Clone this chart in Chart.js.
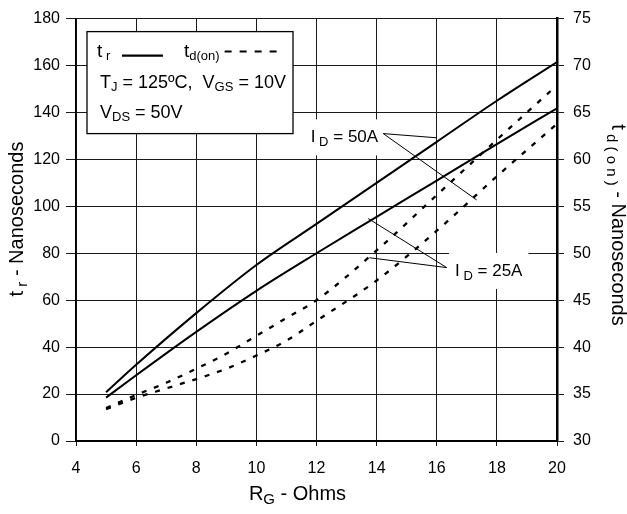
<!DOCTYPE html>
<html>
<head>
<meta charset="utf-8">
<script src="https://cdn.jsdelivr.net/npm/chart.js@4"></script>
<style>
  html, body { margin: 0; padding: 0; background: #fff; }
  #wrap { width: 627px; height: 514px; }
</style>
</head>
<body>
<div id="wrap"><canvas id="grafico" width="627" height="514"></canvas></div>
<script>
// valores
const rgSolid = [5, 6, 8, 10, 12, 14, 16, 18, 20];
const tr50 = [20.8, 32.5, 54.5, 75, 92.5, 110, 127.5, 145, 161.5];
const tr25 = [18.5, 28, 46.5, 64, 80, 95.5, 111, 126.5, 141.8];

const rgDash = [5, 6, 7, 8, 9, 10, 11, 12, 14, 16, 18, 20];
const td50 = [33.5, 34.9, 36.2, 37.7, 39.3, 41.2, 43.1, 45.0, 50.3, 56.2, 62.1, 67.9];
const td25 = [33.4, 34.6, 35.6, 36.6, 37.7, 39.1, 40.7, 42.8, 47.1, 52.4, 58.2, 63.8];

const xTicks = [4, 6, 8, 10, 12, 14, 16, 18, 20];
const yLeftTicks = [0, 20, 40, 60, 80, 100, 120, 140, 160, 180];
const yRightTicks = [30, 35, 40, 45, 50, 55, 60, 65, 70, 75];

const FONTE = "'Liberation Sans', Arial, sans-serif";
const pts = (xs, ys) => xs.map((x, i) => ({ x, y: ys[i] }));

// texto com subscrito: partes [texto, ehSub]
function medir(ctx, partes, tam, tamSub) {
    let w = 0;
    partes.forEach(p => { ctx.font = `${p[1] ? tamSub : tam}px ${FONTE}`; w += ctx.measureText(p[0]).width; });
    return w;
}
function escrever(ctx, partes, x, y, tam, tamSub, desce) {
    ctx.textAlign = 'left'; ctx.textBaseline = 'alphabetic'; ctx.fillStyle = '#000';
    partes.forEach(p => {
        ctx.font = `${p[1] ? tamSub : tam}px ${FONTE}`;
        ctx.fillText(p[0], x, p[1] ? y + desce : y);
        x += ctx.measureText(p[0]).width;
    });
    return x;
}

// anotacoes I_D (coordenadas em dados)
const notas = [
    { partes: [['I', 0], [' D', 1], [' = 50A', 0]], txt: [14.05, 129.8], alinha: 'right', ancora: [14.22, 131], fins: [[16.0, 129.2], [17.33, 102.7]] },
    { partes: [['I', 0], [' D', 1], [' = 25A', 0]], txt: [16.61, 72.9], alinha: 'left', ancora: [16.33, 73.9], fins: [[13.72, 94.8], [13.76, 78.1]] }
];

const extras = {
    id: 'extras',
    beforeDatasetsDraw(chart) {
        const ctx = chart.ctx, sx = chart.scales.x, sy = chart.scales.y;
        ctx.save();
        // caixa da legenda
        const a = chart.chartArea;
        const bx = a.left + 11, by = a.top + 13, bw = 206, bh = 102;
        ctx.fillStyle = '#fff'; ctx.fillRect(bx, by, bw, bh);
        ctx.strokeStyle = '#000'; ctx.lineWidth = 1.3; ctx.strokeRect(bx, by, bw, bh);
        escrever(ctx, [['t', 0], [' r', 1]], bx + 10, by + 25, 19, 13, 3);
        ctx.lineWidth = 2.2; ctx.beginPath(); ctx.moveTo(bx + 35, by + 24); ctx.lineTo(bx + 76, by + 24); ctx.stroke();
        let x = escrever(ctx, [['t', 0], ['d(on)', 1]], bx + 97, by + 25, 19, 13, 3);
        ctx.setLineDash([7, 8]); ctx.lineWidth = 2; ctx.beginPath(); ctx.moveTo(x + 5, by + 20); ctx.lineTo(bx + 196, by + 20); ctx.stroke();
        ctx.setLineDash([]);
        escrever(ctx, [['T', 0], ['J', 1], [' = 125ºC,  V', 0], ['GS', 1], [' = 10V', 0]], bx + 13, by + 56, 18, 13, 3);
        escrever(ctx, [['V', 0], ['DS', 1], [' = 50V', 0]], bx + 13, by + 86, 18, 13, 3);
        // rotulos I_D com fundo branco
        notas.forEach(n => {
            const w = medir(ctx, n.partes, 17, 13);
            const px = sx.getPixelForValue(n.txt[0]), py = sy.getPixelForValue(n.txt[1]);
            const x0 = n.alinha === 'right' ? px - w : px;
            ctx.fillStyle = '#fff'; ctx.fillRect(x0 - 6, py - 17, w + 12, 36);
            escrever(ctx, n.partes, x0, py + 6, 17, 13, 4);
        });
        ctx.restore();
    },
    afterDatasetsDraw(chart) {
        const ctx = chart.ctx, sx = chart.scales.x, sy = chart.scales.y;
        ctx.save();
        ctx.strokeStyle = '#000'; ctx.lineWidth = 1;
        notas.forEach(n => {
            const ax = sx.getPixelForValue(n.ancora[0]), ay = sy.getPixelForValue(n.ancora[1]);
            n.fins.forEach(f => {
                ctx.beginPath(); ctx.moveTo(ax, ay);
                ctx.lineTo(sx.getPixelForValue(f[0]), sy.getPixelForValue(f[1])); ctx.stroke();
            });
        });
        ctx.restore();
    },
    afterDraw(chart) {
        const ctx = chart.ctx;
        ctx.save();
        // titulo x
        let partes = [['R', 0], ['G', 1], [' - Ohms', 0]];
        let w = medir(ctx, partes, 20, 15);
        escrever(ctx, partes, 297.5 - w / 2, 500, 20, 15, 4);
        // titulo esquerdo
        partes = [['t', 0], [' r', 1], [' - Nanoseconds', 0]];
        w = medir(ctx, partes, 20, 15);
        ctx.translate(23, 219); ctx.rotate(-Math.PI / 2);
        escrever(ctx, partes, -w / 2, 0, 20, 15, 4);
        ctx.setTransform(1, 0, 0, 1, 0, 0);
        // titulo direito
        partes = [['t', 0], [' d ( o n )', 1], [' - Nanoseconds', 0]];
        w = medir(ctx, partes, 20, 15);
        ctx.translate(612, 225); ctx.rotate(Math.PI / 2);
        escrever(ctx, partes, -w / 2, 0, 20, 15, 5);
        ctx.restore();
    }
};

const corGrade = '#1a1a1a';
new Chart(document.getElementById('grafico'), {
    type: 'line',
    data: {
        datasets: [
            { data: pts(rgSolid, tr50), yAxisID: 'y', borderColor: '#000', borderWidth: 2, pointRadius: 0, cubicInterpolationMode: 'monotone' },
            { data: pts(rgSolid, tr25), yAxisID: 'y', borderColor: '#000', borderWidth: 2, pointRadius: 0, cubicInterpolationMode: 'monotone' },
            { data: pts(rgDash, td50), yAxisID: 'y1', borderColor: '#000', borderWidth: 2.3, borderDash: [5, 8], pointRadius: 0, cubicInterpolationMode: 'monotone' },
            { data: pts(rgDash, td25), yAxisID: 'y1', borderColor: '#000', borderWidth: 2.3, borderDash: [5, 8], pointRadius: 0, cubicInterpolationMode: 'monotone' }
        ]
    },
    options: {
        responsive: false, animation: false, devicePixelRatio: 1,
        layout: { padding: { top: 14, left: 0, right: 0, bottom: 0 } },
        plugins: { legend: { display: false }, tooltip: { enabled: false } },
        scales: {
            x: {
                type: 'linear', min: 4, max: 20,
                afterBuildTicks: s => { s.ticks = xTicks.map(v => ({ value: v })); },
                afterFit: s => { s.height = 73; },
                ticks: { color: '#000', font: { family: FONTE, size: 16 }, padding: 13 },
                grid: { color: corGrade, lineWidth: 1, tickLength: 5 },
                border: { color: '#000', width: 2 }
            },
            y: {
                position: 'left', min: 0, max: 180,
                afterBuildTicks: s => { s.ticks = yLeftTicks.map(v => ({ value: v })); },
                afterFit: s => { s.width = 76; },
                ticks: { color: '#000', font: { family: FONTE, size: 16 }, padding: 6 },
                grid: { color: corGrade, lineWidth: 1, tickLength: 10 },
                border: { color: '#000', width: 1.5 }
            },
            y1: {
                position: 'right', min: 30, max: 75,
                afterBuildTicks: s => { s.ticks = yRightTicks.map(v => ({ value: v })); },
                afterFit: s => { s.width = 70; },
                ticks: { color: '#000', font: { family: FONTE, size: 16 }, padding: 9 },
                grid: { drawOnChartArea: false, color: corGrade, tickLength: 7 },
                border: { color: '#000', width: 2.5 }
            }
        }
    },
    plugins: [extras]
});
</script>
</body>
</html>
